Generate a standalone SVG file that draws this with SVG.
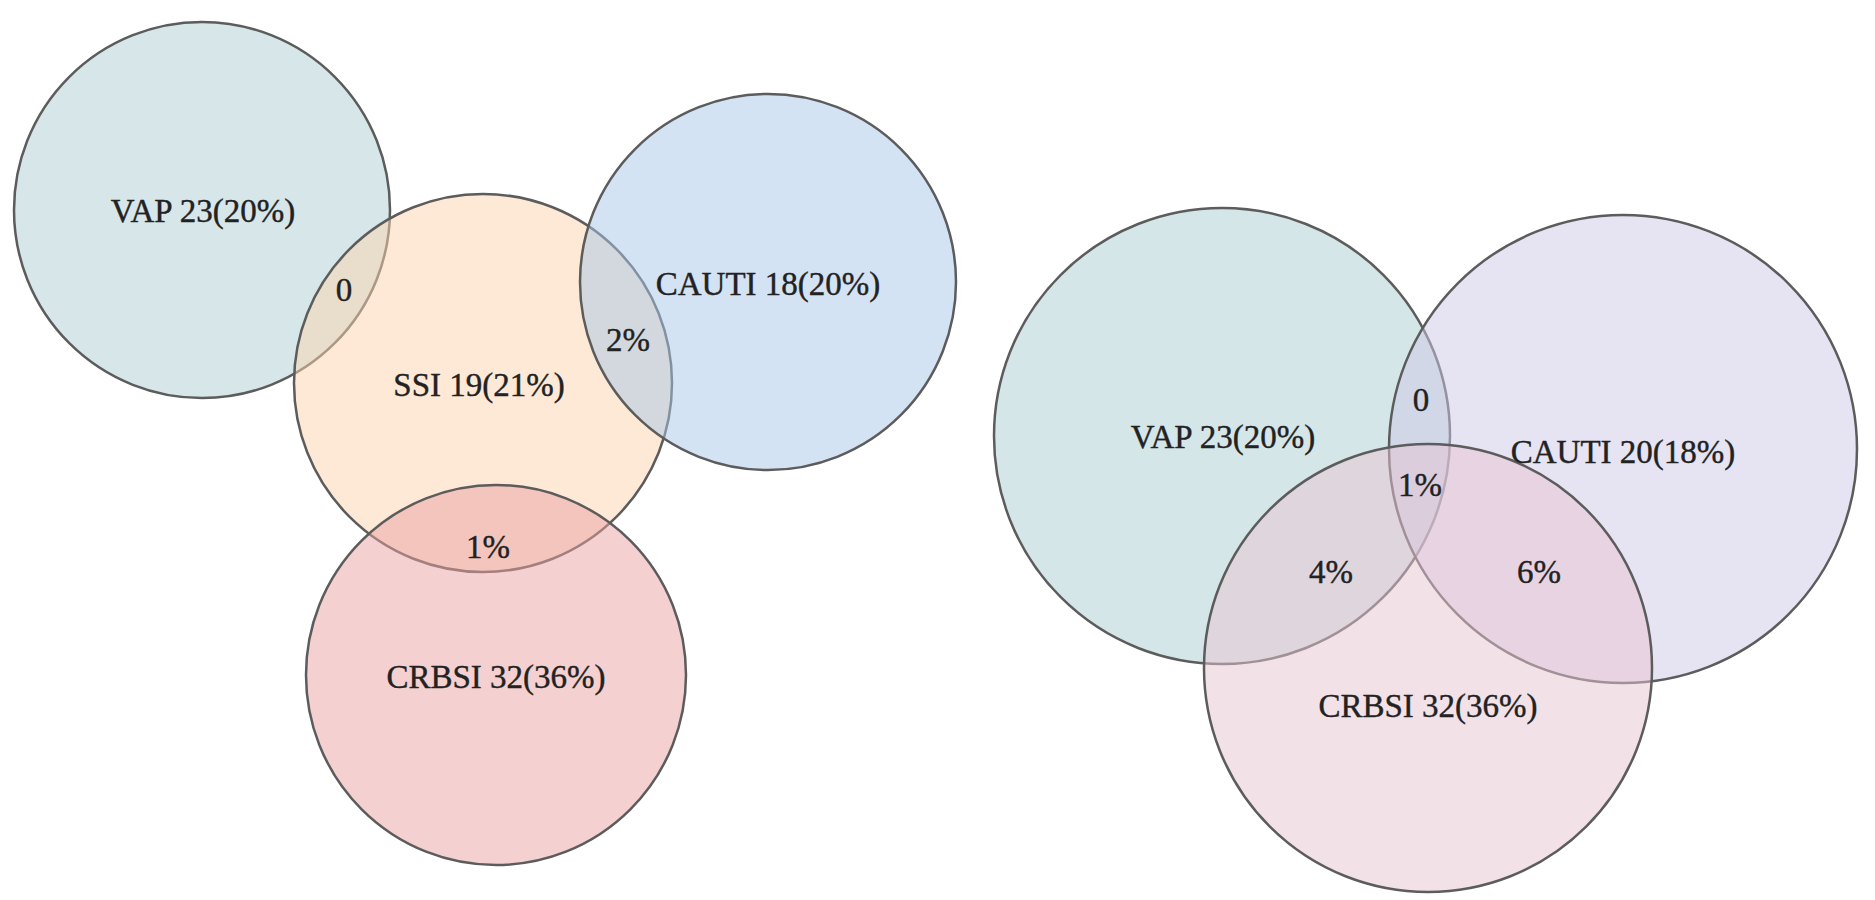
<svg xmlns="http://www.w3.org/2000/svg" width="1875" height="900" viewBox="0 0 1875 900">
<style>
.c{stroke:#5c5c5c;stroke-width:2.5;fill-opacity:0.5}
.t{font-family:"Liberation Serif","Times New Roman",serif;font-size:33px;fill:#222222;stroke:#222222;stroke-width:0.4;text-anchor:middle}
</style>
<rect width="1875" height="900" fill="#ffffff"/>
<g id="left">
<g id="l-vap"><circle class="c" cx="202" cy="210" r="188" fill="#adcdd3"/></g>
<g id="l-ssi"><circle class="c" cx="483" cy="383" r="189" fill="#fbd3ad"/></g>
<g id="l-cauti"><circle class="c" cx="768" cy="282" r="188" fill="#a9c7e7"/></g>
<g id="l-crbsi"><circle class="c" cx="496" cy="675" r="190" fill="#eba1a1"/></g>
<g id="l-labels">
<text class="t" x="203" y="222">VAP 23(20%)</text>
<text class="t" x="344" y="301">0</text>
<text class="t" x="768" y="295">CAUTI 18(20%)</text>
<text class="t" x="628" y="351">2%</text>
<text class="t" x="479" y="396">SSI 19(21%)</text>
<text class="t" x="488" y="558">1%</text>
<text class="t" x="496" y="688">CRBSI 32(36%)</text>
</g>
</g>
<g id="right">
<g id="r-vap"><circle class="c" cx="1222" cy="436" r="228" fill="#abcdd1"/></g>
<g id="r-cauti"><circle class="c" cx="1623" cy="449" r="234" fill="#cdc7e5"/></g>
<g id="r-crbsi"><circle class="c" cx="1428" cy="668" r="224" fill="#e7c3d1"/></g>
<g id="r-labels">
<text class="t" x="1223" y="448">VAP 23(20%)</text>
<text class="t" x="1421" y="411">0</text>
<text class="t" x="1623" y="463">CAUTI 20(18%)</text>
<text class="t" x="1420" y="496">1%</text>
<text class="t" x="1331" y="583">4%</text>
<text class="t" x="1539" y="583">6%</text>
<text class="t" x="1428" y="717">CRBSI 32(36%)</text>
</g>
</g>
<g id="connectors"/>
</svg>
